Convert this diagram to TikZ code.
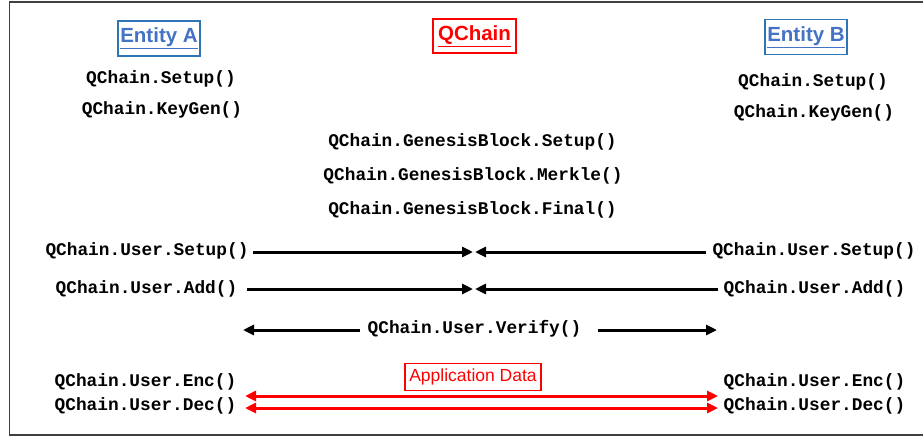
\documentclass[tikz,border=0pt]{standalone}
\usepackage{fontspec}
\setmainfont{Liberation Sans}
\newfontfamily\qmono{Liberation Mono}
\usetikzlibrary{arrows.meta}
\definecolor{tblue}{HTML}{4472C4}
\definecolor{bblue}{HTML}{2E75B6}
\definecolor{qred}{HTML}{FF0000}
\tikzset{
  code/.style={font=\qmono\bfseries\fontsize{17.8}{20}\selectfont, inner sep=0pt, text=black},
  titleA/.style={draw=bblue, line width=1.5pt, text=tblue, font=\bfseries\fontsize{20.5}{23}\selectfont, minimum width=82pt, minimum height=35pt, inner sep=0pt},
  titleQ/.style={draw=qred, line width=1.5pt, text=qred, font=\bfseries\fontsize{20.5}{23}\selectfont, minimum width=83pt, minimum height=34pt, inner sep=0pt},
  appbox/.style={draw=qred, line width=1.2pt, text=qred, font=\fontsize{17.5}{20}\selectfont, minimum width=136pt, minimum height=27pt, inner sep=0pt},
  blk/.style={line width=3pt, -{Triangle[length=11pt,width=10pt]}},
  redarr/.style={line width=3pt, draw=qred, {Triangle[length=11pt,width=10pt]}-{Triangle[length=11pt,width=10pt]}},
  frame/.style={line width=1.2pt, draw=black!75}
}
\begin{document}
\begin{tikzpicture}[x=1pt,y=-1pt]
\useasboundingbox (0,0) rectangle (923,437);
% frame (open on the right)
\coordinate (f1) at (930,2);
\coordinate (f2) at (9.3,2);
\coordinate (f3) at (9.3,435);
\coordinate (f4) at (930,435);
\draw[frame] (f1) -- (f2) -- (f3) -- (f4);

% titles
\node[titleA] (entA) at (159,38.5) {\underline{Entity A}};
\node[titleQ] (qch) at (474.5,36) {\underline{QChain}};
\node[titleA] (entB) at (806,37) {\underline{Entity B}};

% Entity A
\node[code] (aSetup) at (161,79) {QChain.Setup()};
\node[code] (aKey) at (162,110) {QChain.KeyGen()};
% Entity B
\node[code] (bSetup) at (813,82) {QChain.Setup()};
\node[code] (bKey) at (814,113) {QChain.KeyGen()};
% Genesis
\node[code] (gSetup) at (472.5,142) {QChain.GenesisBlock.Setup()};
\node[code] (gMerk) at (473,176) {QChain.GenesisBlock.Merkle()};
\node[code] (gFin) at (472.5,210) {QChain.GenesisBlock.Final()};

% user rows
\node[code] (luSetup) at (147,251) {QChain.User.Setup()};
\node[code] (ruSetup) at (814,251) {QChain.User.Setup()};
\node[code] (luAdd) at (146.5,289) {QChain.User.Add()};
\node[code] (ruAdd) at (814.5,289) {QChain.User.Add()};
\node[code] (ver) at (474.5,329) {QChain.User.Verify()};
\node[code] (lEnc) at (145.5,382) {QChain.User.Enc()};
\node[code] (rEnc) at (814.5,382) {QChain.User.Enc()};
\node[code] (lDec) at (145.5,406) {QChain.User.Dec()};
\node[code] (rDec) at (814.5,406) {QChain.User.Dec()};

\node[appbox] (app) at (473,377) {Application Data};

% connectors
\coordinate (mS1) at (473,252);
\coordinate (mS2) at (475,252);
\coordinate (mA1) at (473,289);
\coordinate (mA2) at (475,289);
\coordinate (vL) at (243,330);
\coordinate (vR) at (717,330);
\coordinate (vLs) at (360,330);
\coordinate (vRs) at (598,330);
\coordinate (sL) at (253,252);
\coordinate (sR) at (706,252);
\coordinate (aL) at (247,289);
\coordinate (aR) at (718,289);
\coordinate (r1L) at (245,396);
\coordinate (r1R) at (718,396);
\coordinate (r2L) at (245,408);
\coordinate (r2R) at (718,408);

\draw[blk] (sL) -- (mS1);
\draw[blk] (sR) -- (mS2);
\draw[blk] (aL) -- (mA1);
\draw[blk] (aR) -- (mA2);
\draw[blk] (vLs) -- (vL);
\draw[blk] (vRs) -- (vR);
\draw[redarr] (r1L) -- (r1R);
\draw[redarr] (r2L) -- (r2R);
\end{tikzpicture}
\end{document}
